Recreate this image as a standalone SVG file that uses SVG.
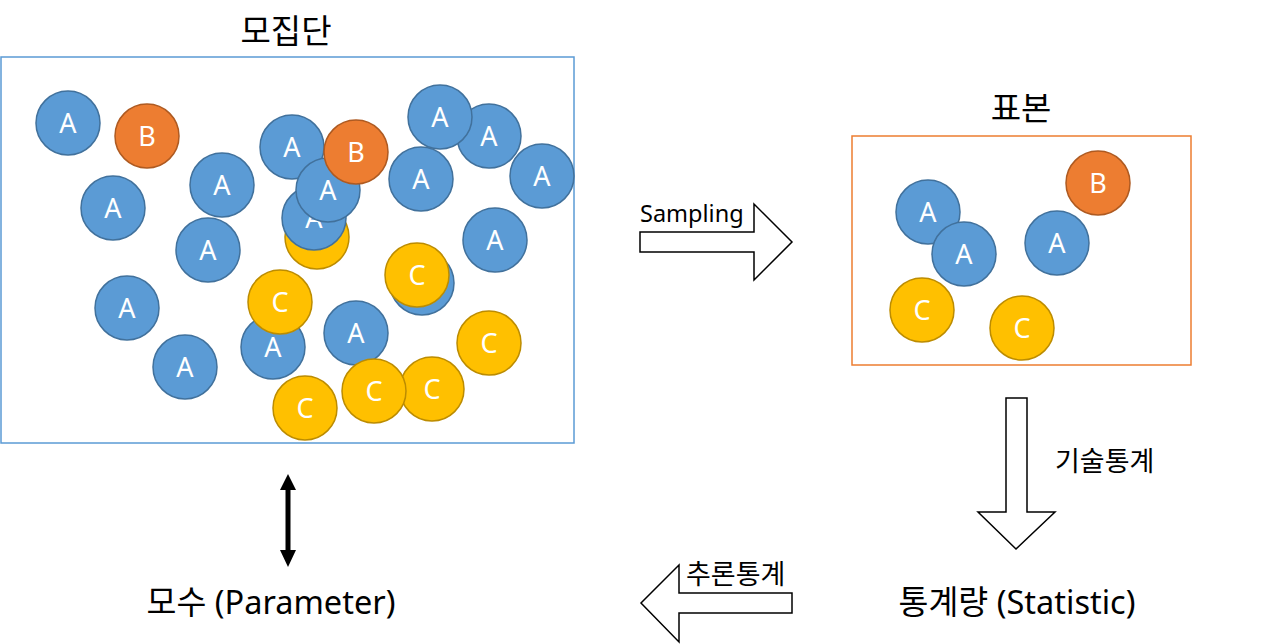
<svg xmlns="http://www.w3.org/2000/svg" width="1280" height="644" viewBox="0 0 1280 644">
<style>
.t{font-family:"Noto Sans","Noto Sans CJK KR",sans-serif;fill:#000}
.a circle{fill:#5B9BD5;stroke:#41719C;stroke-width:1.5}
.b circle{fill:#ED7D31;stroke:#AE5A21;stroke-width:1.5}
.c circle{fill:#FFC000;stroke:#BC8C00;stroke-width:1.5}
.n text{font-family:"Noto Sans",sans-serif;font-size:27px;fill:#fff;text-anchor:middle}
.blk{fill:#fff;stroke:#000;stroke-width:1.5}
</style>
<rect width="1280" height="644" fill="#fff"/>
<g id="population">
<rect x="1" y="57" width="573" height="386" fill="none" stroke="#5B9BD5" stroke-width="1.5"/>
<text class="t" x="286" y="43" font-size="33" text-anchor="middle">모집단</text>
</g>
<g id="sample">
<rect x="852" y="136" width="339" height="229" fill="none" stroke="#ED7D31" stroke-width="1.5"/>
<text class="t" x="1021" y="120" font-size="33" text-anchor="middle">표본</text>
</g>
<g id="pop-circles">
<g id="p1" class="n a"><circle cx="68" cy="123" r="32"/><text x="68" y="133">A</text></g>
<g id="p2" class="n b"><circle cx="147" cy="136" r="32"/><text x="147" y="146">B</text></g>
<g id="p3" class="n a"><circle cx="113" cy="208" r="32"/><text x="113" y="218">A</text></g>
<g id="p4" class="n a"><circle cx="222" cy="185" r="32"/><text x="222" y="195">A</text></g>
<g id="p5" class="n a"><circle cx="208" cy="250" r="32"/><text x="208" y="260">A</text></g>
<g id="p6" class="n a"><circle cx="127" cy="308" r="32"/><text x="127" y="318">A</text></g>
<g id="p7" class="n a"><circle cx="185" cy="367" r="32"/><text x="185" y="377">A</text></g>
<g id="p8" class="n a"><circle cx="292" cy="147" r="32"/><text x="292" y="157">A</text></g>
<g id="p9" class="n c"><circle cx="317" cy="237" r="32"/><text x="317" y="247">C</text></g>
<g id="p10" class="n a"><circle cx="314" cy="218" r="32"/><text x="314" y="228">A</text></g>
<g id="p11" class="n a"><circle cx="328" cy="190" r="32"/><text x="328" y="200">A</text></g>
<g id="p12" class="n b"><circle cx="356" cy="152" r="32"/><text x="356" y="162">B</text></g>
<g id="p13" class="n a"><circle cx="489" cy="136" r="32"/><text x="489" y="146">A</text></g>
<g id="p14" class="n a"><circle cx="440" cy="117" r="32"/><text x="440" y="127">A</text></g>
<g id="p15" class="n a"><circle cx="421" cy="179" r="32"/><text x="421" y="189">A</text></g>
<g id="p16" class="n a"><circle cx="542" cy="176" r="32"/><text x="542" y="186">A</text></g>
<g id="p17" class="n a"><circle cx="495" cy="240" r="32"/><text x="495" y="250">A</text></g>
<g id="p18" class="n a"><circle cx="422" cy="283" r="32"/><text x="422" y="293">A</text></g>
<g id="p19" class="n c"><circle cx="417" cy="275" r="32"/><text x="417" y="285">C</text></g>
<g id="p20" class="n a"><circle cx="273" cy="347" r="32"/><text x="273" y="357">A</text></g>
<g id="p21" class="n c"><circle cx="280" cy="302" r="32"/><text x="280" y="312">C</text></g>
<g id="p22" class="n a"><circle cx="356" cy="333" r="32"/><text x="356" y="343">A</text></g>
<g id="p23" class="n c"><circle cx="305" cy="408" r="32"/><text x="305" y="418">C</text></g>
<g id="p24" class="n c"><circle cx="432" cy="389" r="32"/><text x="432" y="399">C</text></g>
<g id="p25" class="n c"><circle cx="374" cy="391" r="32"/><text x="374" y="401">C</text></g>
<g id="p26" class="n c"><circle cx="489" cy="343" r="32"/><text x="489" y="353">C</text></g>
</g>
<g id="sample-circles">
<g id="s1" class="n a"><circle cx="928" cy="212" r="32"/><text x="928" y="222">A</text></g>
<g id="s2" class="n a"><circle cx="964" cy="254" r="32"/><text x="964" y="264">A</text></g>
<g id="s3" class="n a"><circle cx="1057" cy="243" r="32"/><text x="1057" y="253">A</text></g>
<g id="s4" class="n b"><circle cx="1098" cy="183" r="32"/><text x="1098" y="193">B</text></g>
<g id="s5" class="n c"><circle cx="922" cy="310" r="32"/><text x="922" y="320">C</text></g>
<g id="s6" class="n c"><circle cx="1022" cy="328" r="32"/><text x="1022" y="338">C</text></g>
</g>
<g id="parameter"><text class="t" x="271" y="614" font-size="32.5" text-anchor="middle">모수 (Parameter)</text></g>
<g id="statistic"><text class="t" x="1017" y="614" font-size="32.5" text-anchor="middle">통계량 (Statistic)</text></g>
<g id="connectors">
<path class="blk" d="M640,232 H754 V204 L792,242 L754,280 V252 H640 Z"/>
<text class="t" x="640" y="222" font-size="23.5">Sampling</text>
<path class="blk" d="M1006,398 H1027 V512 H1055 L1016,549 L978,512 H1006 Z"/>
<text class="t" x="1055" y="471" font-size="27">기술통계</text>
<path class="blk" d="M792,593 V613 H679 V642 L641,603 L679,565 V593 Z"/>
<text class="t" x="686" y="584" font-size="27">추론통계</text>
<line x1="288" y1="486" x2="288" y2="553" stroke="#000" stroke-width="5"/>
<path d="M288,474 L296,490 H280 Z M288,567 L296,550 H280 Z" fill="#000"/>
</g>
</svg>
